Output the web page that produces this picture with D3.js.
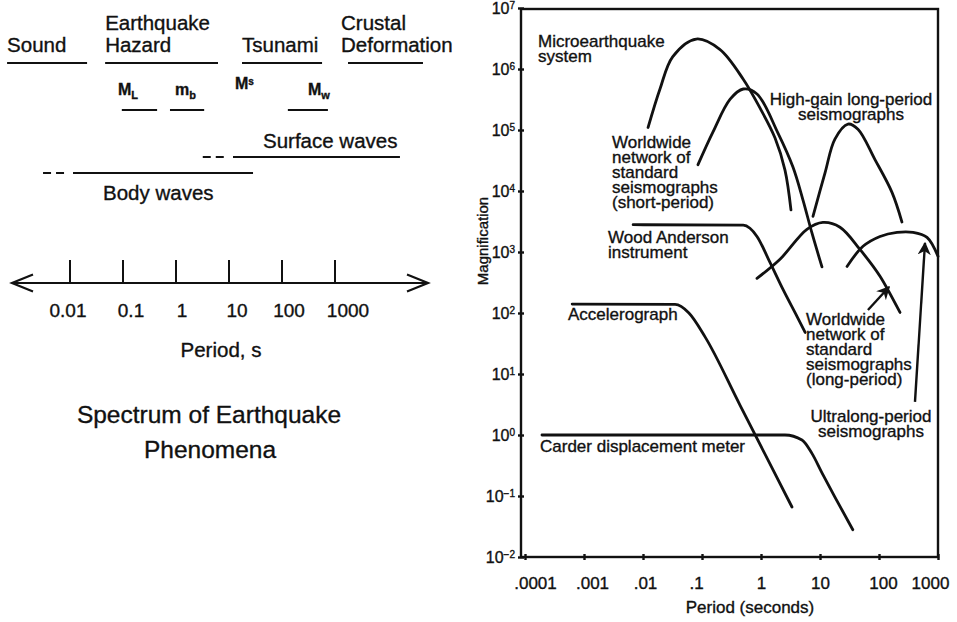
<!DOCTYPE html>
<html>
<head>
<meta charset="utf-8">
<script src="https://cdn.jsdelivr.net/npm/d3@7"></script>
<style>
  body { margin: 0; background: #fff; }
  svg text {
    font-family: "Liberation Sans", Arial, Helvetica, sans-serif;
    fill: #111;
    stroke: #111;
    stroke-width: 0.35px;
  }
</style>
</head>
<body>
<svg id="chart" width="957" height="622"></svg>
<script>
// ---------- Left panel: spectrum of earthquake phenomena ----------
const spectrumTicks = [0.01, 0.1, 1, 10, 100, 1000];
const spectrumTickLabels = ["0.01", "0.1", "1", "10", "100", "1000"];

// Period ranges (s) covered by each phenomenon band
const phenomenaNames = [["Sound"], ["Earthquake", "Hazard"], ["Tsunami"], ["Crustal", "Deformation"]];
const phenomenaRanges = [[6.5e-4, 0.021], [0.046, 6.2], [17.6, 570], [1760, 45700]];

// Magnitude scales and their period ranges
const magnitudeNames = [["M", "L"], ["m", "b"], ["M", "w"]];
const magnitudeRanges = [[0.095, 0.44], [0.77, 3.4], [129, 735]];

// Wave types: uncertain (dashed) and established (solid) period ranges
const surfaceWaveDashed = [3.2, 9.2];
const surfaceWaveSolid = [11.9, 16800];
const bodyWaveDashed = [0.0031, 0.0092];
const bodyWaveSolid = [0.0114, 28.4];

// ---------- Right panel: instrument magnification curves ----------
const periodTicks = [1e-4, 1e-3, 1e-2, 0.1, 1, 10, 100, 1000];
const periodTickLabels = [".0001", ".001", ".01", ".1", "1", "10", "100", "1000"];
const magnificationExponents = [-2, -1, 0, 1, 2, 3, 4, 5, 6, 7];

// [period (s), magnification]
const microearthquake = [[0.0122, 1.1e5], [0.0194, 4.7e5], [0.032, 1.6e6], [0.08, 3.1e6], [0.2, 2.1e6],
  [0.5, 6.8e5], [0.96, 2.3e5], [1.73, 7.4e4], [2.55, 2.2e4], [3.22, 4.9e3]];
const wwssnShortPeriod = [[0.0855, 2.7e4], [0.153, 9.2e4], [0.3, 3.2e5], [0.5, 4.7e5], [0.855, 3.9e5],
  [1.94, 8.9e4], [3.48, 2.47e4], [5.15, 7.1e3], [7.3, 2.05e3], [10.8, 570]];
const highGainLongPeriod = [[7.6, 3850], [12.2, 2.0e4], [17.9, 7.1e4], [29.8, 1.25e5], [44, 1.03e5],
  [85, 3.3e4], [166, 9.5e3], [245, 3100]];
const woodAnderson = [[0.0068, 2800], [0.5, 2750], [0.65, 2450], [0.855, 1800], [1.42, 675],
  [2.36, 243], [4.07, 88], [5.6, 48]];
const wwssnLongPeriod = [[0.855, 370], [2.1, 760], [6.0, 2350], [11.2, 3050], [21.8, 2550],
  [47.6, 1100], [104, 400], [227, 102]];
const ultralongPeriod = [[28.7, 580], [53.6, 1240], [104, 1800], [202, 2100], [377, 2100],
  [651, 1740], [1000, 850]];
const accelerograph = [[6.3e-4, 140], [0.035, 138], [0.06, 100], [0.112, 41], [0.44, 3.1], [3.35, 0.066]];
const carderMeter = [[1.94e-4, 1.0], [2.55, 1.0], [4.95, 0.83], [7.3, 0.5], [10.8, 0.24],
  [17.9, 0.096], [36, 0.028]];

// Pointer arrows from labels to curves: [from, to] in [period, magnification]
const pointerArrows = [[[65, 112], [148, 267]], [[407, 3.5], [602, 1405]]];

const svg = d3.select("#chart");

// ================= Left panel =================
const left = svg.append("g");
const xs = d3.scaleLog().domain([0.01, 1000]).range([70, 335]);
const axisY = 283;

// Category headings and their bars
phenomenaNames.forEach((lines, i) => {
  const [a, b] = phenomenaRanges[i];
  const x0 = i === 3 ? xs(a) - 7 : xs(a);
  const t = left.append("text").attr("x", x0).attr("font-size", "20.5px");
  const baseY = lines.length === 2 ? 30 : 52;
  lines.forEach((s, k) => t.append("tspan").attr("x", x0).attr("y", baseY + k * 22).text(s));
  left.append("line").attr("x1", xs(a)).attr("x2", xs(b)).attr("y1", 63).attr("y2", 63)
    .attr("stroke", "#111").attr("stroke-width", 2);
});

// Magnitude scale symbols
magnitudeNames.forEach((nm, i) => {
  const [a, b] = magnitudeRanges[i];
  const xm = [118, 175, 308][i];
  const t = left.append("text").attr("x", xm).attr("y", 95)
    .attr("font-size", "16px").attr("font-weight", "bold");
  t.append("tspan").text(nm[0]);
  t.append("tspan").attr("dy", 4).attr("font-size", "11px").text(nm[1]);
  left.append("line").attr("x1", xs(a)).attr("x2", xs(b)).attr("y1", 110).attr("y2", 110)
    .attr("stroke", "#111").attr("stroke-width", 2);
});
// Surface-wave magnitude (no bar)
const ms = left.append("text").attr("x", 235).attr("y", 89).attr("font-size", "16px").attr("font-weight", "bold");
ms.append("tspan").text("M");
ms.append("tspan").attr("dy", -4).attr("font-size", "10px").text("s");

// Wave bands
function waveBand(dashed, solid, y) {
  left.append("line").attr("x1", xs(dashed[0])).attr("x2", xs(dashed[1])).attr("y1", y).attr("y2", y)
    .attr("stroke", "#111").attr("stroke-width", 2).attr("stroke-dasharray", "8,5");
  left.append("line").attr("x1", xs(solid[0])).attr("x2", xs(solid[1])).attr("y1", y).attr("y2", y)
    .attr("stroke", "#111").attr("stroke-width", 2);
}
waveBand(surfaceWaveDashed, surfaceWaveSolid, 157);
waveBand(bodyWaveDashed, bodyWaveSolid, 173);
left.append("text").attr("x", 263).attr("y", 148).attr("font-size", "20.5px").text("Surface waves");
left.append("text").attr("x", 103).attr("y", 200).attr("font-size", "20.5px").text("Body waves");

// Period axis with arrows at both ends
left.append("line").attr("x1", 12).attr("x2", 428).attr("y1", axisY).attr("y2", axisY)
  .attr("stroke", "#111").attr("stroke-width", 2);
left.append("path").attr("d", `M33,${axisY - 8.5}L12,${axisY}L33,${axisY + 8.5}`)
  .attr("fill", "none").attr("stroke", "#111").attr("stroke-width", 2.2);
left.append("path").attr("d", `M407,${axisY - 8.5}L428,${axisY}L407,${axisY + 8.5}`)
  .attr("fill", "none").attr("stroke", "#111").attr("stroke-width", 2.2);
left.selectAll(".sp-tick").data(spectrumTicks).join("line")
  .attr("x1", d => xs(d)).attr("x2", d => xs(d)).attr("y1", axisY - 23).attr("y2", axisY)
  .attr("stroke", "#111").attr("stroke-width", 2);
// labels sit slightly right of their ticks, as typeset
const spectrumLabelNudge = [-2, 8, 6, 8, 7, 13];
left.selectAll(".sp-label").data(spectrumTicks).join("text")
  .attr("x", (d, i) => xs(d) + spectrumLabelNudge[i]).attr("y", 317)
  .attr("text-anchor", "middle").attr("font-size", "19px")
  .text((d, i) => spectrumTickLabels[i]);
left.append("text").attr("x", 221).attr("y", 357).attr("text-anchor", "middle")
  .attr("font-size", "20.5px").text("Period, s");
left.append("text").attr("x", 209).attr("y", 423).attr("text-anchor", "middle")
  .attr("font-size", "24.5px").text("Spectrum of Earthquake");
left.append("text").attr("x", 210).attr("y", 458).attr("text-anchor", "middle")
  .attr("font-size", "24.5px").text("Phenomena");

// ================= Right panel =================
const frame = { left: 521, right: 938, top: 9, bottom: 557 };
const x = d3.scaleLog().domain([1e-4, 1e3]).range([525, 938]);
const y = d3.scaleLog().domain([1e-2, 1e7]).range([557, 8]);
const right = svg.append("g");

// Curves: peaked responses are smooth splines; flat-then-rolloff responses stay monotone
const smooth = d3.line().x(d => x(d[0])).y(d => y(d[1])).curve(d3.curveCatmullRom.alpha(0.5));
const mono = d3.line().x(d => x(d[0])).y(d => y(d[1])).curve(d3.curveMonotoneX);
const peaked = [microearthquake, wwssnShortPeriod, highGainLongPeriod, wwssnLongPeriod, ultralongPeriod];
const flat = [woodAnderson, accelerograph, carderMeter];
function drawCurves(data, gen, cls) {
  right.selectAll("." + cls).data(data).join("path")
    .attr("class", cls).attr("d", gen)
    .attr("fill", "none").attr("stroke", "#111").attr("stroke-width", 2.8)
    .attr("stroke-linecap", "round").attr("stroke-linejoin", "round");
}
drawCurves(peaked, smooth, "peaked");
drawCurves(flat, mono, "flat");

// Pointer arrows
svg.append("defs").append("marker").attr("id", "head")
  .attr("viewBox", "0 0 10 10").attr("refX", 9).attr("refY", 5)
  .attr("markerWidth", 5.5).attr("markerHeight", 5.5).attr("orient", "auto")
  .append("path").attr("d", "M0,0L10,5L0,10L3,5Z").attr("fill", "#111");
right.selectAll(".pointer").data(pointerArrows).join("line")
  .attr("x1", d => x(d[0][0])).attr("y1", d => y(d[0][1]))
  .attr("x2", d => x(d[1][0])).attr("y2", d => y(d[1][1]))
  .attr("stroke", "#111").attr("stroke-width", 2.4).attr("marker-end", "url(#head)");

// Frame
right.append("rect").attr("x", frame.left).attr("y", frame.top)
  .attr("width", frame.right - frame.left).attr("height", frame.bottom - frame.top)
  .attr("fill", "none").attr("stroke", "#111").attr("stroke-width", 2.4);

// Axes
const periodLabelNudge = [10, 8, 2, -6, 0, 0, 4, -8];
const gx = right.append("g").attr("transform", `translate(0,${frame.bottom})`)
  .call(d3.axisBottom(x).tickValues(periodTicks).tickSize(0).tickPadding(20)
    .tickFormat((d, i) => periodTickLabels[i]));
gx.select(".domain").remove();
gx.selectAll(".tick text").attr("font-size", "17px").attr("font-family", null).attr("fill", "#111")
  .attr("dx", (d, i) => periodLabelNudge[i]);
gx.selectAll(".tick").append("line").attr("y1", -3).attr("y2", 3)
  .attr("stroke", "#111").attr("stroke-width", 2.4);

const gy = right.append("g").attr("transform", `translate(${frame.left},0)`)
  .call(d3.axisLeft(y).tickValues(magnificationExponents.map(e => Math.pow(10, e)))
    .tickSize(0).tickPadding(6).tickFormat(""));
gy.select(".domain").remove();
gy.selectAll(".tick text").attr("font-size", "16px").attr("font-family", null).attr("fill", "#111")
  .each(function (d) {
    const e = Math.round(Math.log10(d));
    const t = d3.select(this);
    t.append("tspan").text("10");
    t.append("tspan").attr("dy", "-0.45em").attr("font-size", "10px").text(String(e).replace("-", "\u2212"));
  });
gy.selectAll(".tick").append("line").attr("x1", -3).attr("x2", 3)
  .attr("stroke", "#111").attr("stroke-width", 2.4);

right.append("text").attr("transform", "translate(488,241) rotate(-90)")
  .attr("text-anchor", "middle").attr("font-size", "15px").text("Magnification");
right.append("text").attr("x", 750).attr("y", 613).attr("text-anchor", "middle")
  .attr("font-size", "17px").text("Period (seconds)");

// Curve labels
function label(lines, x0, y0, anchor) {
  const t = right.append("text").attr("font-size", "17px").attr("text-anchor", anchor || "start");
  lines.forEach((s, k) => t.append("tspan").attr("x", x0).attr("y", y0 + k * 15).text(s));
}
label(["Microearthquake", "system"], 538, 47);
label(["High-gain long-period", "seismographs"], 851, 105, "middle");
label(["Worldwide", "network of", "standard", "seismographs", "(short-period)"], 612, 148);
label(["Wood Anderson", "instrument"], 608, 243);
label(["Accelerograph"], 568, 320);
label(["Worldwide", "network of", "standard", "seismographs", "(long-period)"], 806, 325);
label(["Ultralong-period", "seismographs"], 871, 422, "middle");
label(["Carder displacement meter"], 540, 452);
</script>
</body>
</html>
